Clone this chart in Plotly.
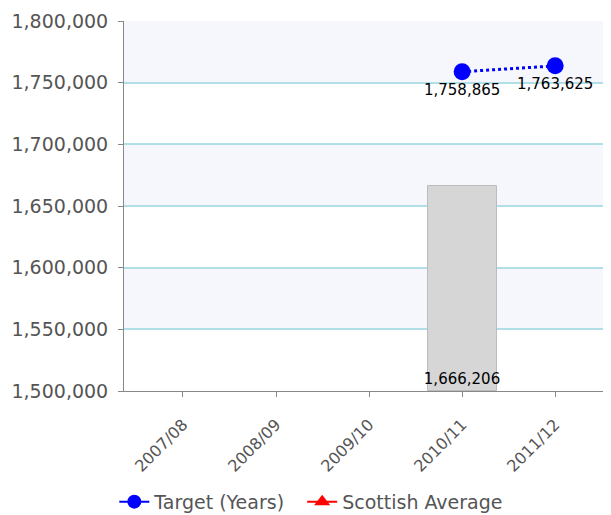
import plotly.graph_objects as go

categories = ["2007/08", "2008/09", "2009/10", "2010/11", "2011/12"]
bar_values = [None, None, None, 1666206, None]
target_values = [None, None, None, 1758865, 1763625]
scottish_avg = [None, None, None, None, None]
y_ticks = [1500000, 1550000, 1600000, 1650000, 1700000, 1750000, 1800000]

FONT = "DejaVu Sans"

fig = go.Figure()

fig.add_trace(go.Bar(
    x=categories, y=[None if v is None else v - y_ticks[0] for v in bar_values],
    base=y_ticks[0],
    width=0.74,
    marker=dict(color="#d6d6d6", line=dict(color="#bcbcbc", width=1)),
    text=[None if v is None else f"{v:,}" for v in bar_values],
    textposition="inside", insidetextanchor="start", textangle=0,
    constraintext="none",
    textfont=dict(family=FONT, size=15, color="#000000"),
    showlegend=False, hoverinfo="skip",
))

fig.add_trace(go.Scatter(
    x=categories, y=target_values, name="Target (Years)",
    mode="lines+markers+text",
    line=dict(color="#0000ff", width=3, dash="dot"),
    marker=dict(color="#0000ff", size=17, symbol="circle"),
    text=[None if v is None else f"{v:,}" for v in target_values],
    textposition="bottom center",
    textfont=dict(family=FONT, size=15, color="#000000"),
    connectgaps=False, showlegend=False,
))

# legend entry for the target series (solid line, as in the reference legend)
fig.add_trace(go.Scatter(
    x=categories, y=[None] * len(categories), name="Target (Years)  ",
    mode="lines+markers",
    line=dict(color="#0000ff", width=2),
    marker=dict(color="#0000ff", size=14, symbol="circle"),
))

fig.add_trace(go.Scatter(
    x=categories, y=scottish_avg, name="Scottish Average",
    mode="lines+markers",
    line=dict(color="#ff0000", width=2),
    marker=dict(color="#ff0000", size=14, symbol="triangle-up"),
))

shapes = []
for i in range(len(y_ticks) - 1):
    if i % 2 == 1:
        shapes.append(dict(type="rect", xref="paper", yref="y", x0=0, x1=1,
                           y0=y_ticks[i], y1=y_ticks[i + 1],
                           fillcolor="#f5f7fd", line=dict(width=0), layer="below"))

fig.update_layout(
    width=603, height=507,
    margin=dict(l=116, r=0, t=13, b=124, autoexpand=False),
    paper_bgcolor="white", plot_bgcolor="white",
    shapes=shapes,
    font=dict(family=FONT, color="#555555"),
    legend=dict(orientation="h", xref="container", yref="container",
                x=0.503, xanchor="center", y=0.026, yanchor="middle",
                font=dict(family=FONT, size=19, color="#555555"),
                itemwidth=30, traceorder="normal", itemclick=False),
    xaxis=dict(type="category", categoryorder="array", categoryarray=categories,
               range=[-0.634, 4.6], tickangle=-45, ticks="outside", ticklen=5,
               tickcolor="#888888", showline=True, linecolor="#888888", linewidth=1,
               showgrid=False, automargin=False, ticklabelstandoff=12,
               tickfont=dict(family=FONT, size=16, color="#555555")),
    yaxis=dict(range=[y_ticks[0], y_ticks[-1]], tickvals=y_ticks, tickformat=",",
               ticks="outside", ticklen=5, tickcolor="#888888",
               showline=True, linecolor="#888888", linewidth=1,
               showgrid=True, gridcolor="#b0dfe7", gridwidth=1.5, zeroline=False,
               automargin=False, ticklabelstandoff=6,
               tickfont=dict(family=FONT, size=19, color="#555555")),
    bargap=0,
)

fig.write_html("out.html")
